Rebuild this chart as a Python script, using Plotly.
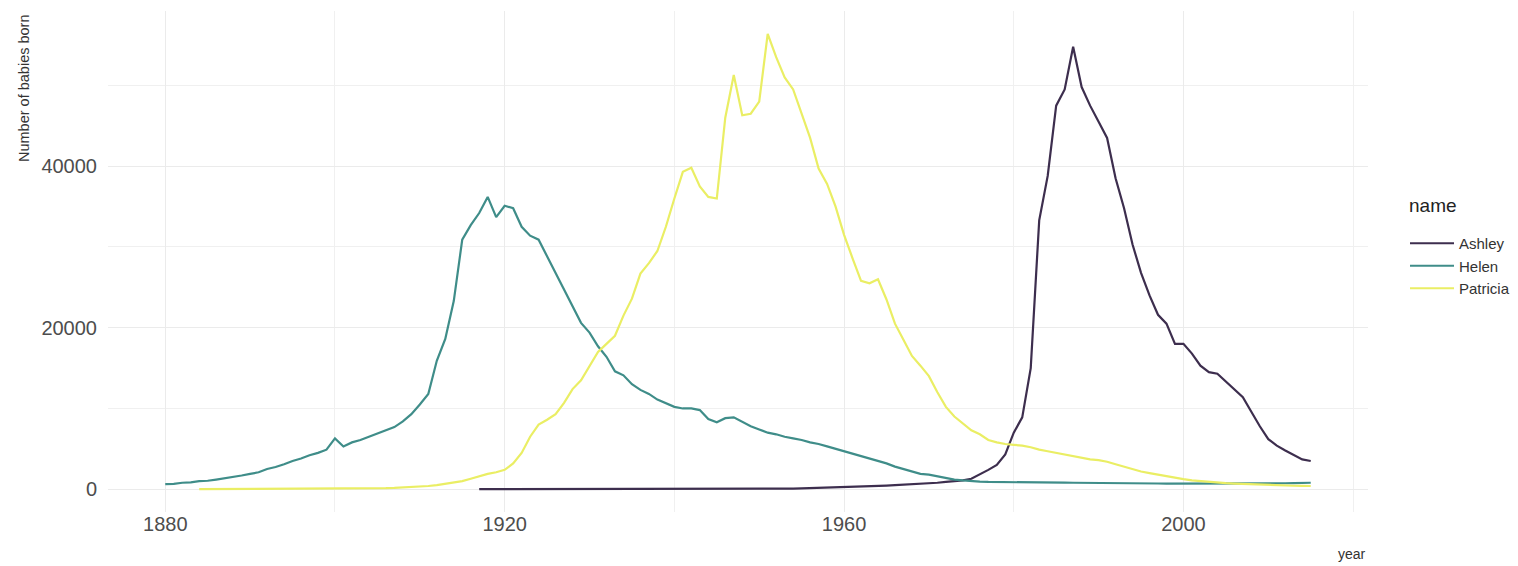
import plotly.graph_objects as go

# Helen: 1880-2015
helen_years = list(range(1880, 2016))
helen_counts = [
    636, 670, 800, 850, 1000, 1050, 1200, 1350, 1500, 1700,
    1900, 2100, 2500, 2750, 3100, 3500, 3800, 4200, 4500, 4900,
    6300, 5300, 5800, 6100, 6500, 6900, 7300, 7700, 8400, 9300,
    10500, 11800, 15900, 18600, 23300, 30900, 32700, 34200, 36200, 33700,
    35100, 34800, 32500, 31400, 30900, 28800, 26700, 24700, 22600, 20600,
    19400, 17700, 16400, 14600, 14100, 13000, 12300, 11800, 11100, 10600,
    10200, 10000, 10000, 9800, 8700, 8300, 8800, 8900, 8300, 7800,
    7400, 7000, 6800, 6500, 6300, 6100, 5800, 5600, 5300, 5000,
    4700, 4400, 4100, 3800, 3500, 3200, 2800, 2500, 2200, 1900,
    1800, 1600, 1400, 1200, 1100, 1000, 950, 900, 900, 880,
    870, 860, 850, 840, 830, 820, 810, 800, 800, 790,
    780, 770, 760, 750, 740, 730, 720, 710, 700, 700,
    700, 690, 680, 670, 670, 660, 660, 670, 680, 690,
    700, 720, 740, 760, 780, 800,
]

# Patricia: 1884-2015
patricia_years = list(range(1884, 2016))
patricia_counts = [
    10, 12, 14, 15, 18, 20, 22, 25, 28, 30,
    33, 36, 40, 43, 46, 50, 55, 60, 70, 80,
    95, 110, 130, 160, 200, 250, 300, 400, 500, 650,
    800, 1000, 1300, 1600, 1900, 2100, 2400, 3200, 4500, 6500,
    8000, 8600, 9300, 10700, 12400, 13500, 15300, 17000, 18000, 19000,
    21500, 23600, 26700, 28000, 29500, 32500, 36000, 39300, 39800, 37500,
    36200, 36000, 46000, 51300, 46300, 46500, 48000, 56400, 53500, 51000,
    49500, 46500, 43500, 39700, 37800, 35000, 31500, 28600, 25800, 25500,
    26000, 23500, 20500, 18500, 16500, 15300, 14000, 12000, 10200, 9000,
    8200, 7300, 6800, 6100, 5800, 5600, 5500, 5400, 5200, 4900,
    4700, 4500, 4300, 4100, 3900, 3700, 3600, 3400, 3100, 2800,
    2500, 2200, 2000, 1800, 1600, 1400, 1250, 1100, 1000, 900,
    800, 750, 700, 650, 600, 550, 500, 470, 450, 430,
    420, 400,
]

# Ashley: 1917-2015
ashley_years = list(range(1917, 2016))
ashley_counts = [
    5, 5, 5, 5, 5, 5, 6, 6, 6, 6,                                   # 1917-1926
    6, 6, 7, 7, 7, 7, 8, 8, 8, 9,                                   # 1927-1936
    9, 10, 10, 11, 12, 12, 13, 14, 15, 16,                          # 1937-1946
    18, 20, 25, 30, 40, 50, 60, 80, 100, 130,                       # 1947-1956
    150, 170, 190, 210, 240, 280, 330, 400, 450, 500,               # 1957-1966
    550, 600, 650, 700, 800, 900, 1000, 1100, 1300, 1800,           # 1967-1976
    2400, 3000, 4300, 7000, 8900, 15000, 33300, 38800, 47500, 49500,  # 1977-1986
    54800, 49800, 47500, 45500, 43500, 38500, 34800, 30300, 26800, 24000,  # 1987-1996
    21600, 20500, 18000, 18000, 16800, 15300, 14500, 14300, 13300, 12300,  # 1997-2006
    11400, 9600, 7800, 6200, 5400, 4800, 4200, 3700, 3500,          # 2007-2015
]

series = [
    ("Ashley", ashley_years, ashley_counts, "#3d2e4e"),
    ("Helen", helen_years, helen_counts, "#3f8d89"),
    ("Patricia", patricia_years, patricia_counts, "#eaee64"),
]

fig = go.Figure()
for name, years, counts, color in series:
    fig.add_trace(go.Scatter(
        x=years, y=counts, name=name, mode="lines",
        line=dict(color=color, width=2.2),
    ))

# the page body adds an 8px margin, so the plot area sits at 108..1368 x 11..512
# on screen; these map screen pixels to paper coordinates
def px(x):
    return (x - 108) / 1260


def py(y):
    return (512 - y) / 501


grid = "#ebebeb"
fig.update_layout(
    width=1518, height=566,
    margin=dict(l=100, r=158, t=3, b=62),
    plot_bgcolor="white", paper_bgcolor="white",
    font=dict(family="Liberation Sans, Arial, sans-serif", color="#4d4d4d"),
    showlegend=True,
    legend=dict(
        font=dict(size=15, color="#333"),
        x=px(1405), xanchor="left", y=py(266), yanchor="middle",
        tracegroupgap=2, itemwidth=44,
    ),
    xaxis=dict(
        range=[1873.25, 2021.75],
        tickvals=[1880, 1920, 1960, 2000],
        tickfont=dict(size=20),
        showgrid=True, gridcolor=grid, gridwidth=1.2,
        minor=dict(tickvals=[1900, 1940, 1980, 2020], showgrid=True,
                   gridcolor="#f0f0f0", gridwidth=1),
        zeroline=False, showline=False,
        ticks="", ticklabelstandoff=-2,
    ),
    yaxis=dict(
        range=[-2820, 59220],
        tickvals=[0, 20000, 40000],
        tickformat="d",
        tickfont=dict(size=20),
        showgrid=True, gridcolor=grid, gridwidth=1.2,
        minor=dict(tickvals=[10000, 30000, 50000], showgrid=True,
                   gridcolor="#f0f0f0", gridwidth=1),
        zeroline=False, showline=False,
        ticks="outside", ticklen=6, tickcolor="white",
    ),
    annotations=[
        dict(text="Number of babies born", x=px(24), y=py(88),
             xref="paper", yref="paper", xanchor="center", yanchor="middle",
             showarrow=False, textangle=-90, font=dict(size=14.5, color="#333")),
        dict(text="year", x=px(1352), y=py(554),
             xref="paper", yref="paper", xanchor="center", yanchor="middle",
             showarrow=False, font=dict(size=14, color="#333")),
        dict(text="name", x=px(1407), y=py(206),
             xref="paper", yref="paper", xanchor="left", yanchor="middle",
             showarrow=False, font=dict(size=19, color="#222")),
    ],
)

fig.write_html("out.html")
